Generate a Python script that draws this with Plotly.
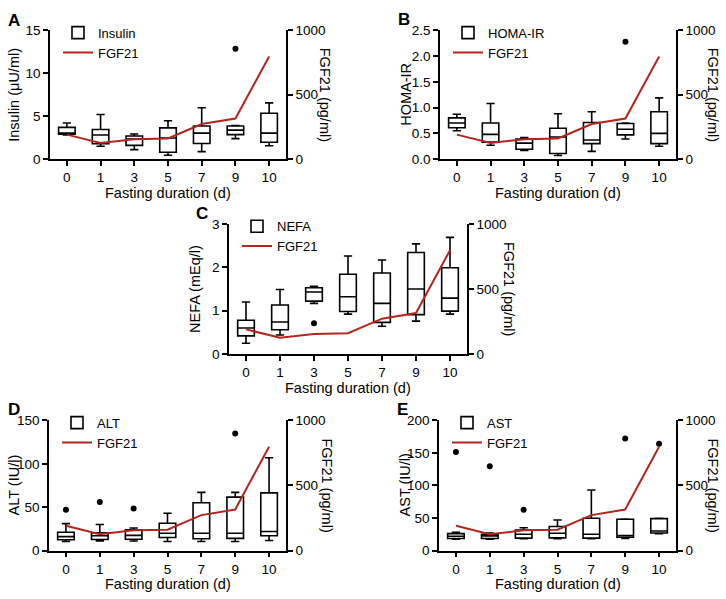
import plotly.graph_objects as go

W, H = 726, 599

days = ["0", "1", "3", "5", "7", "9", "10"]
fgf21 = [190, 125, 155, 160, 272, 315, 798]

# Panel A: Insulin
ins_low = [2.8, 1.5, 1.1, 0.45, 0.87, 2.38, 1.55]
ins_q1 = [2.9, 1.78, 1.6, 0.8, 1.82, 2.85, 1.97]
ins_med = [3.05, 2.8, 2.35, 2.46, 3.03, 3.38, 3.03]
ins_q3 = [3.7, 3.45, 2.7, 3.64, 3.86, 3.85, 5.34]
ins_up = [4.2, 5.19, 2.92, 4.47, 5.98, 3.9, 6.55]
ins_out_x = ["9"]
ins_out_y = [12.85]

# Panel B: HOMA-IR
homa_low = [0.55, 0.27, 0.17, 0.07, 0.15, 0.39, 0.25]
homa_q1 = [0.61, 0.33, 0.19, 0.11, 0.30, 0.47, 0.30]
homa_med = [0.70, 0.48, 0.31, 0.43, 0.37, 0.58, 0.50]
homa_q3 = [0.80, 0.70, 0.39, 0.60, 0.71, 0.69, 0.92]
homa_up = [0.87, 1.08, 0.42, 0.88, 0.92, 0.70, 1.19]
homa_out_x = ["9"]
homa_out_y = [2.28]

# Panel C: NEFA
nefa_low = [0.25, 0.44, 1.17, 0.92, 0.64, 0.76, 0.92]
nefa_q1 = [0.42, 0.56, 1.22, 0.98, 0.73, 0.91, 0.99]
nefa_med = [0.60, 0.74, 1.43, 1.32, 1.17, 1.50, 1.29]
nefa_q3 = [0.78, 1.13, 1.53, 1.84, 1.87, 2.34, 1.99]
nefa_up = [1.20, 1.49, 1.56, 2.26, 2.17, 2.54, 2.69]
nefa_out_x = ["3"]
nefa_out_y = [0.71]

# Panel D: ALT
alt_low = [10.5, 11, 11, 10.5, 10.5, 10.5, 11.5]
alt_q1 = [12.5, 12.7, 13, 15, 13.5, 14, 17]
alt_med = [16, 17, 17.5, 20, 20, 20, 22]
alt_q3 = [21, 20.5, 24, 31.5, 55, 61.5, 66.5]
alt_up = [31, 30, 26, 43, 67, 67, 107]
alt_out_x = ["0", "1", "3", "9"]
alt_out_y = [47, 56, 48.5, 135]

# Panel E: AST
ast_low = [17.5, 17.5, 18, 18, 18, 18.5, 26]
ast_q1 = [18.5, 18.5, 19, 19.5, 19, 20.5, 27]
ast_med = [22, 22.5, 25, 26.5, 25, 23, 30]
ast_q3 = [26, 25, 31.5, 37, 49.5, 48, 49]
ast_up = [28, 27, 35, 47, 93, 48.5, 49.5]
ast_out_x = ["0", "1", "3", "9", "10"]
ast_out_y = [151.5, 129.5, 62.5, 172, 164]

FONT = "Liberation Sans, Arial, Helvetica, sans-serif"
RED = "#B3261E"

panels = [
    dict(letter="A", name="Insulin", ytitle="Insulin (\u03bcU/ml)",
         low=ins_low, q1=ins_q1, med=ins_med, q3=ins_q3, up=ins_up,
         ox=ins_out_x, oy=ins_out_y, yr=[0, 15], dt=5, fmt="",
         px=(50, 286, 24, 156), lt=14, rt=325, lx=14, ly=14),
    dict(letter="B", name="HOMA-IR", ytitle="HOMA-IR",
         low=homa_low, q1=homa_q1, med=homa_med, q3=homa_q3, up=homa_up,
         ox=homa_out_x, oy=homa_out_y, yr=[0, 2.5], dt=0.5, fmt=".1f",
         px=(440, 676, 24, 156), lt=406, rt=713, lx=404, ly=13),
    dict(letter="C", name="NEFA", ytitle="NEFA (mEq/l)",
         low=nefa_low, q1=nefa_q1, med=nefa_med, q3=nefa_q3, up=nefa_up,
         ox=nefa_out_x, oy=nefa_out_y, yr=[0, 3], dt=1, fmt="",
         px=(229, 467, 222.5, 356), lt=195, rt=509, lx=202, ly=212),
    dict(letter="D", name="ALT", ytitle="ALT (IU/l)",
         low=alt_low, q1=alt_q1, med=alt_med, q3=alt_q3, up=alt_up,
         ox=alt_out_x, oy=alt_out_y, yr=[0, 150], dt=50, fmt="",
         px=(49, 286, 424, 557.5), lt=14, rt=327, lx=14, ly=413),
    dict(letter="E", name="AST", ytitle="AST (IU/l)",
         low=ast_low, q1=ast_q1, med=ast_med, q3=ast_q3, up=ast_up,
         ox=ast_out_x, oy=ast_out_y, yr=[0, 200], dt=50, fmt="",
         px=(439, 676, 424, 557.5), lt=405, rt=713, lx=402, ly=413),
]

fig = go.Figure()
layout = dict(width=W, height=H, margin=dict(l=0, r=0, t=0, b=0),
              paper_bgcolor="white", plot_bgcolor="rgba(0,0,0,0)",
              font=dict(family=FONT, color="black", size=13.5),
              boxgap=0.3, annotations=[], hovermode=False)

def xp(v):
    return v / W

def yp(v):
    return 1 - v / H

for i, p in enumerate(panels):
    k = i + 1
    xa = "x" if k == 1 else f"x{k}"
    yl_n = 2 * k - 1
    yr_n = 2 * k
    yl = "y" if yl_n == 1 else f"y{yl_n}"
    yrr = f"y{yr_n}"
    leg = "legend" if k == 1 else f"legend{k}"
    L, R, T, B = p["px"]

    fig.add_trace(go.Box(
        x=days, q1=p["q1"], median=p["med"], q3=p["q3"],
        lowerfence=p["low"], upperfence=p["up"], name=p["name"],
        xaxis=xa, yaxis=yl, legend=leg, boxpoints=False,
        fillcolor="rgba(255,255,255,0)", line=dict(color="black", width=1.6),
        whiskerwidth=0.5, hoverinfo="skip"))
    fig.add_trace(go.Scatter(
        x=p["ox"], y=p["oy"], mode="markers", showlegend=False,
        xaxis=xa, yaxis=yl, marker=dict(color="black", size=6)))
    fig.add_trace(go.Scatter(
        x=days, y=fgf21, mode="lines", name="FGF21",
        xaxis=xa, yaxis=yrr, legend=leg,
        line=dict(color=RED, width=2)))

    axcommon = dict(showline=True, linecolor="black", linewidth=1.6,
                    ticks="outside", ticklen=5, tickwidth=1.6, tickcolor="black",
                    showgrid=False, zeroline=False,
                    tickfont=dict(family=FONT, size=13.5, color="black"))
    xkey = "xaxis" if k == 1 else f"xaxis{k}"
    layout[xkey] = dict(domain=[xp(L), xp(R)], anchor=yl, type="category",
                        range=[-0.5, 6.5], **axcommon)
    ylkey = "yaxis" if yl_n == 1 else f"yaxis{yl_n}"
    layout[ylkey] = dict(domain=[yp(B), yp(T)], anchor=xa, range=p["yr"],
                         dtick=p["dt"], tick0=0, tickformat=p["fmt"], **axcommon)
    layout[f"yaxis{yr_n}"] = dict(overlaying=yl, side="right", anchor=xa,
                                  range=[0, 1000], dtick=500, tick0=0, **axcommon)
    layout[leg] = dict(x=xp(L + 8), y=yp(T - 13), xanchor="left", yanchor="top",
                       bgcolor="rgba(0,0,0,0)", font=dict(family=FONT, size=13),
                       tracegroupgap=0)

    cy = (T + B) / 2
    layout["annotations"] += [
        dict(text=p["ytitle"], x=xp(p["lt"]), y=yp(cy), xref="paper", yref="paper",
             showarrow=False, textangle=-90, font=dict(size=14.5),
             xanchor="center", yanchor="middle"),
        dict(text="FGF21 (pg/ml)", x=xp(p["rt"]), y=yp(cy), xref="paper", yref="paper",
             showarrow=False, textangle=90, font=dict(size=14.5),
             xanchor="center", yanchor="middle"),
        dict(text="Fasting duration (d)", x=xp((L + R) / 2), y=yp(B + 34.5),
             xref="paper", yref="paper", showarrow=False, font=dict(size=14.5),
             xanchor="center", yanchor="middle"),
        dict(text=f"<b>{p['letter']}</b>", x=xp(p["lx"]), y=yp(p["ly"]),
             xref="paper", yref="paper", showarrow=False, font=dict(size=17),
             xanchor="center", yanchor="middle"),
    ]

fig.update_layout(**layout)
# remove the browser's default 8px page margin so the figure fills the window exactly
fig.write_html("out.html",
               config={"displayModeBar": False},
               post_script="document.body.style.margin='0';"
                           "document.body.style.padding='0';"
                           "document.documentElement.style.overflow='hidden';")
